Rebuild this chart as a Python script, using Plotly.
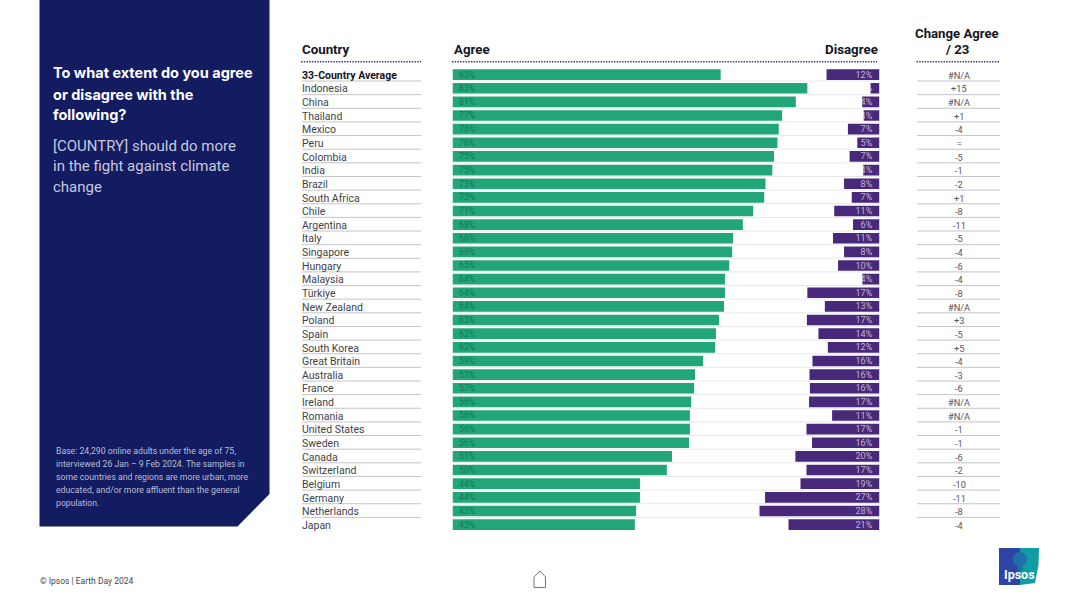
import plotly.graph_objects as go

countries = ["33-Country Average","Indonesia","China","Thailand","Mexico","Peru","Colombia","India","Brazil","South Africa","Chile","Argentina","Italy","Singapore","Hungary","Malaysia","Türkiye","New Zealand","Poland","Spain","South Korea","Great Britain","Australia","France","Ireland","Romania","United States","Sweden","Canada","Switzerland","Belgium","Germany","Netherlands","Japan"]
agree = [62.8,83.1,80.4,77.2,76.4,76.1,75.3,74.9,73.3,73.0,70.4,68.0,65.7,65.5,64.8,63.8,63.8,63.6,62.4,61.7,61.5,58.7,56.8,56.6,55.9,55.6,55.6,55.4,51.4,50.2,43.9,43.9,43.0,42.7]
agree_labels = ["63%","83%","81%","77%","76%","76%","75%","75%","73%","73%","71%","68%","66%","66%","65%","64%","64%","64%","63%","62%","62%","59%","57%","57%","56%","56%","56%","56%","51%","50%","44%","44%","43%","43%"]
disagree = [12.4,2.1,4.05,3.7,7.4,5.2,7.0,3.8,8.3,6.5,10.6,6.2,10.9,8.3,9.7,4.0,16.9,12.8,17.0,14.3,12.1,15.7,16.4,16.3,16.5,11.1,17.1,15.8,19.7,17.1,18.5,26.8,28.1,21.3]
disagree_labels = ["12%","2%","4%","4%","7%","5%","7%","4%","8%","7%","11%","6%","11%","8%","10%","4%","17%","13%","17%","14%","12%","16%","16%","16%","17%","11%","17%","16%","20%","17%","19%","27%","28%","21%"]
change = ["#N/A","+15","#N/A","+1","-4","=","-5","-1","-2","+1","-8","-11","-5","-4","-6","-4","-8","#N/A","+3","-5","+5","-4","-3","-6","#N/A","#N/A","-1","-1","-6","-2","-10","-11","-8","-4"]

W, H = 1080, 607
FONT = "Roboto"
NAVY = "#131C60"
GREEN = "#22A577"
PURPLE = "#48287A"
PAD = 2  # annotations carry 2px of padding around their text


def px(x):
    return x / W


def py(y):
    return 1 - y / H


def path(points, close=True):
    s = "M " + " L ".join(f"{px(x):.5f},{py(y):.5f}" for x, y in points)
    return s + (" Z" if close else "")


n = len(countries)
fig = go.Figure()
fig.add_bar(y=countries, x=agree, orientation="h", marker=dict(color=GREEN, line_width=0), hoverinfo="skip")
fig.add_bar(y=countries, x=disagree, base=[100 - d for d in disagree], orientation="h",
            marker=dict(color=PURPLE, line_width=0), hoverinfo="skip")
fig.add_scatter(y=countries, x=[1.55] * n, yaxis="y2", mode="text", text=agree_labels, textposition="middle right",
                textfont=dict(family=FONT, size=8.6, color="rgba(8,85,75,0.6)"), hoverinfo="skip")
# White-based text disappears on the white ground, as the clipped labels of the narrow bars do
fig.add_scatter(y=countries, x=[98.3] * n, yaxis="y2", mode="text", text=disagree_labels, textposition="middle left",
                textfont=dict(family=FONT, size=9, color="rgba(255,255,255,0.66)"), hoverinfo="skip")

shapes = []
# Left panel
shapes.append(dict(type="path", xref="paper", yref="paper", line_width=0, fillcolor=NAVY, layer="below",
                   path=path([(39.5, 0), (269.5, 0), (269.5, 494), (237.5, 526.5), (39.5, 526.5)])))
# Row separators
for i in range(n - 1):
    yy = i + 0.47
    shapes.append(dict(type="line", xref="paper", yref="y", x0=px(302), x1=px(421), y0=yy, y1=yy,
                       line=dict(color="#C4C4CA", width=1), layer="below"))
    shapes.append(dict(type="line", xref="paper", yref="y", x0=px(452.5), x1=px(879), y0=yy, y1=yy,
                       line=dict(color="#E8E8EA", width=1), layer="below"))
    shapes.append(dict(type="line", xref="paper", yref="y", x0=px(917), x1=px(1000), y0=yy, y1=yy,
                       line=dict(color="#C4C4CA", width=1), layer="below"))
# Dotted header rules
for x0, x1 in [(301, 421), (452, 877), (916.5, 1000)]:
    shapes.append(dict(type="line", xref="paper", yref="paper", x0=px(x0), x1=px(x1), y0=py(61.8), y1=py(61.8),
                       line=dict(color="#3A4280", width=1.5, dash="1.5px,1.2px")))
# Home icon
shapes.append(dict(type="path", xref="paper", yref="paper", fillcolor="white",
                   line=dict(color="#77777A", width=1),
                   path=path([(534, 577), (540, 571), (545.5, 577), (545.5, 587.5), (534, 587.5)])))
# Logo
shapes.append(dict(type="path", xref="paper", yref="paper", line_width=0, fillcolor="#2F45A6",
                   path=path([(999, 548), (1020, 548), (1020, 585), (999, 585)])))
shapes.append(dict(type="path", xref="paper", yref="paper", line_width=0, fillcolor="#0F9CA3",
                   path=path([(1020, 548), (1039, 548), (1038.5, 565), (1035, 583), (1020, 585)])))
shapes.append(dict(type="circle", xref="paper", yref="paper", line_width=0, fillcolor="#1F6FA8",
                   x0=px(1013), x1=px(1027), y0=py(552), y1=py(566)))
shapes.append(dict(type="path", xref="paper", yref="paper", line_width=0, fillcolor="#1F6FA8",
                   path=path([(1017, 564), (1023, 564), (1022, 571), (1018, 571)])))

ann = []


def note(x, y, text, size, color, anchor="left", bold=False, family=FONT):
    t = f"<b>{text}</b>" if bold else text
    off = {"left": -PAD, "right": PAD, "center": 0}[anchor]
    ann.append(dict(xref="paper", yref="paper", x=px(x + off), y=py(y), text=t, showarrow=False,
                    xanchor=anchor, yanchor="middle", font=dict(family=family, size=size, color=color)))


for line, y in zip(["To what extent do you agree", "or disagree with the", "following?"], [73, 94, 115]):
    note(52.5, y, line, 14.5, "#FFFFFF", bold=True, family="Inter")
for line, y in zip(["[COUNTRY] should do more", "in the fight against climate", "change"], [145.5, 166.5, 187.5]):
    note(52.5, y, line, 15, "#C6C9DE")
for line, y in zip(["Base: 24,290 online adults under the age of 75,",
                    "interviewed 26 Jan – 9 Feb 2024. The samples in",
                    "some countries and regions are more urban, more",
                    "educated, and/or more affluent than the general",
                    "population."], [451, 464, 477, 490, 503]):
    note(56, y, line, 8.7, "#B9BCD6")
note(39.5, 580.5, "© Ipsos | Earth Day 2024", 8.5, "#45454D")
note(302, 49.5, "Country", 13.3, "#15151F", bold=True)
note(454.5, 49.5, "Agree", 13.3, "#15151F", bold=True)
note(877.5, 49.5, "Disagree", 13.3, "#15151F", "right", bold=True)
note(957, 33.5, "Change Agree", 13.2, "#15151F", "center", bold=True)
note(957, 49.5, "/ 23", 13.2, "#15151F", "center", bold=True)
note(1019, 574, "Ipsos", 12.5, "#FFFFFF", "center", bold=True)

for i, c in enumerate(countries):
    ann.append(dict(xref="paper", yref="y", x=px(302 - PAD), y=c, yshift=-0.7, text=f"<b>{c}</b>" if i == 0 else c,
                    showarrow=False, xanchor="left", yanchor="middle",
                    font=dict(family=FONT, size=10.5, color="#15151F" if i == 0 else "#3F3F48")))
    ann.append(dict(xref="paper", yref="y", x=px(959), y=c, yshift=-0.7, text=change[i], showarrow=False,
                    xanchor="center", yanchor="middle", font=dict(family=FONT, size=9.2, color="#55555C")))

fig.update_layout(
    width=W, height=H, margin=dict(l=0, r=0, t=0, b=0), autosize=False,
    paper_bgcolor="white", plot_bgcolor="rgba(0,0,0,0)", showlegend=False,
    barmode="overlay", bargap=0.22, shapes=shapes, annotations=ann,
    xaxis=dict(domain=[px(452.5), px(879.5)], range=[0, 100], visible=False, fixedrange=True),
    yaxis=dict(domain=[py(531.4), py(67.8)], type="category", categoryorder="array", categoryarray=countries,
               range=[n - 0.5, -0.5], visible=False, fixedrange=True),
    yaxis2=dict(overlaying="y", type="category", categoryorder="array", categoryarray=countries,
                range=[n - 0.5 - 0.06, -0.5 - 0.06], visible=False, fixedrange=True),
)
fig.write_html("out.html", config=dict(displayModeBar=False), post_script="document.body.style.margin='0';")
